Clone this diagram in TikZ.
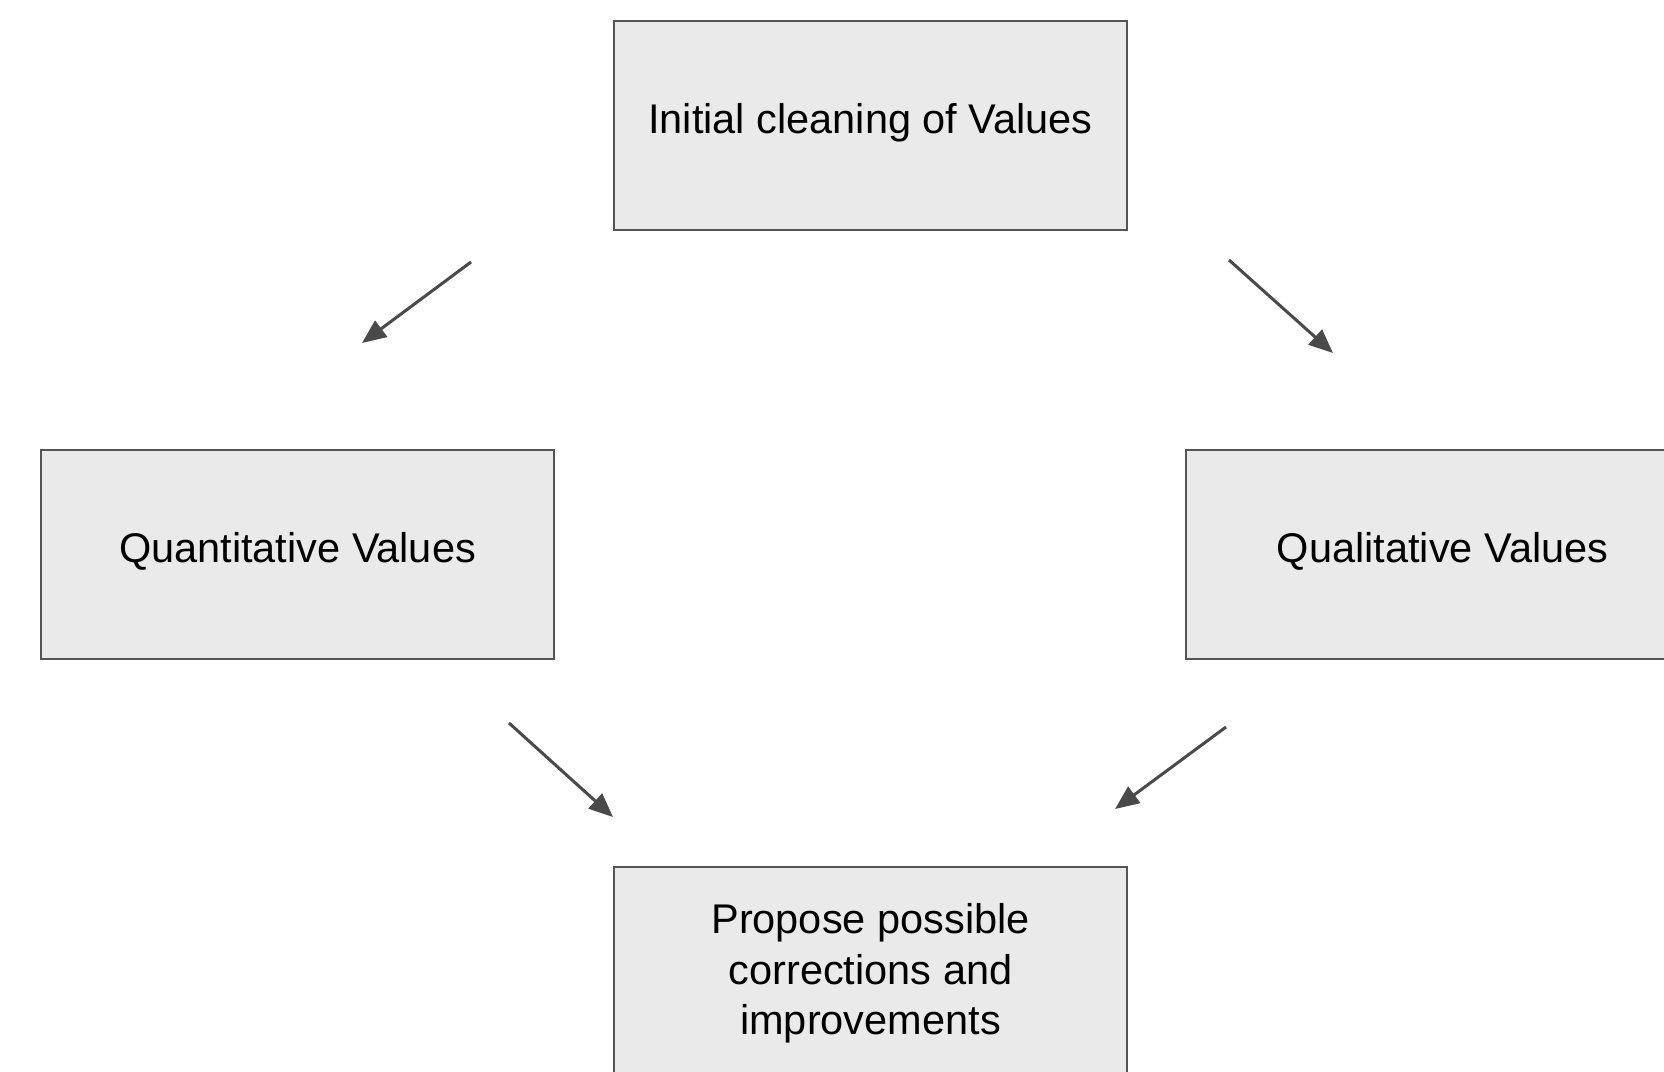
\documentclass[tikz,border=0pt]{standalone}
\usepackage{fontspec}
\setmainfont{Liberation Sans}
\usetikzlibrary{arrows.meta}
\definecolor{boxfill}{HTML}{EAEAEA}
\definecolor{boxline}{HTML}{555555}
\definecolor{arrowgray}{HTML}{4A4A4A}
\begin{document}
\begin{tikzpicture}[x=1pt,y=1pt,
  stagebox/.style={draw=boxline, fill=boxfill, line width=2pt,
    minimum width=513pt, minimum height=209pt, inner sep=0pt,
    align=center, text=black,
    font=\fontsize{41.5}{50.6}\selectfont, text depth=0pt, text height=16pt},
  flow/.style={draw=arrowgray, line width=3pt,
    -{Triangle[length=24pt,width=20pt]}}]
\useasboundingbox (0,0) rectangle (1664,-1071);

% stages
\node[stagebox] (init)  at (870.5,-125.5) {Initial cleaning of Values};
\node[stagebox] (quant) at (297.5,-554)   {Quantitative Values};
\node[stagebox] (qual)  at (1442.5,-554)  {Qualitative Values};
\node[stagebox] (prop) at (870.5,-971.5) {};
\node[font=\fontsize{41.5}{50.6}\selectfont, align=center, inner sep=0pt]
  (proptext) at (870.5,-973.5) {Propose possible\\corrections and\\improvements};

% free-standing arrows between the stages
\coordinate (a1s) at (471,-262);  \coordinate (a1e) at (362,-343);
\coordinate (a2s) at (1229,-260); \coordinate (a2e) at (1333,-353);
\coordinate (a3s) at (509,-723);  \coordinate (a3e) at (613,-817);
\coordinate (a4s) at (1226,-727); \coordinate (a4e) at (1115,-809);

\draw[flow] (a1s) -- (a1e);
\draw[flow] (a2s) -- (a2e);
\draw[flow] (a3s) -- (a3e);
\draw[flow] (a4s) -- (a4e);
\end{tikzpicture}
\end{document}
